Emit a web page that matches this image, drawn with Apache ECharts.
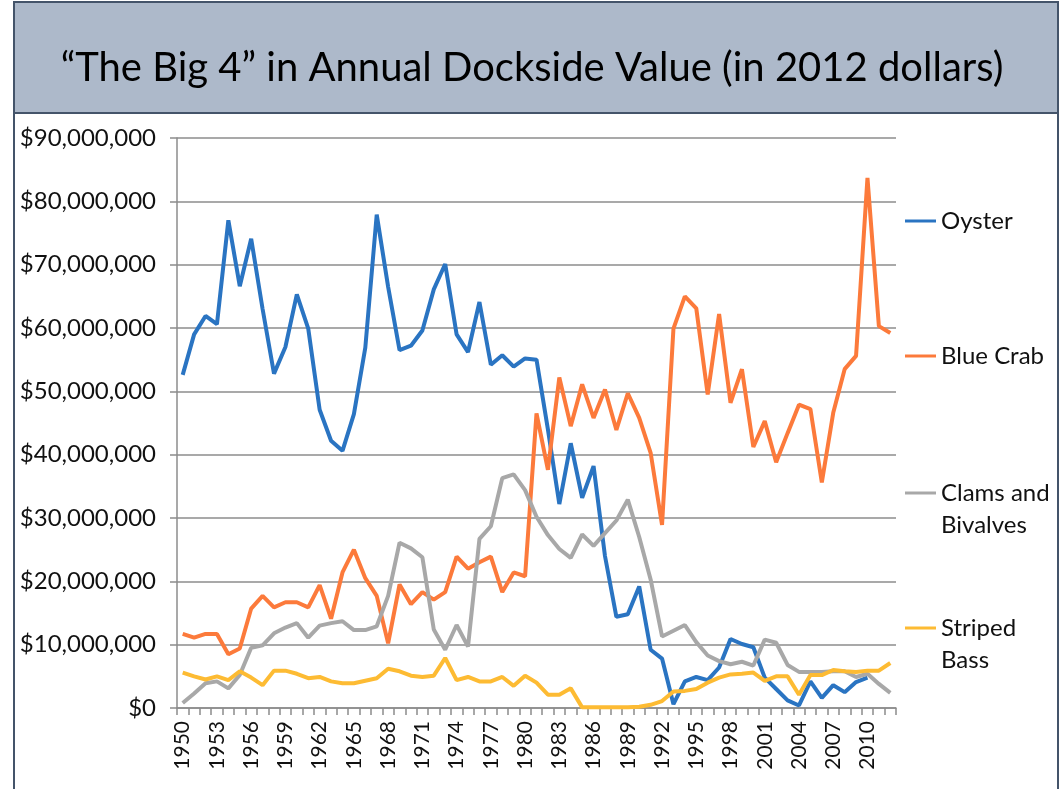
<!DOCTYPE html>
<html><head><meta charset="utf-8">
<script src="https://cdn.jsdelivr.net/npm/echarts@6/dist/echarts.min.js"></script>
<style>html,body{margin:0;padding:0;background:#fff}#c{width:1064px;height:789px}</style>
</head><body><div id="c"></div>
<script>
const chartTitle = '\u201CThe Big 4\u201D in Annual Dockside Value (in 2012 dollars)';
const years = ['1950','1951','1952','1953','1954','1955','1956','1957','1958','1959',
  '1960','1961','1962','1963','1964','1965','1966','1967','1968','1969',
  '1970','1971','1972','1973','1974','1975','1976','1977','1978','1979',
  '1980','1981','1982','1983','1984','1985','1986','1987','1988','1989',
  '1990','1991','1992','1993','1994','1995','1996','1997','1998','1999',
  '2000','2001','2002','2003','2004','2005','2006','2007','2008','2009',
  '2010','2011','2012'];
// values in millions of 2012 dollars
const oyster = [52.6,59.0,61.9,60.6,77.0,66.6,74.1,63.0,52.8,57.0,
  65.3,59.9,47.1,42.2,40.6,46.4,56.9,77.9,66.5,56.5,
  57.2,59.6,66.1,70.1,59.0,56.2,64.1,54.2,55.7,53.9,
  55.2,55.0,44.0,32.2,41.8,33.2,38.2,24.0,14.4,14.8,
  19.2,9.2,7.8,0.6,4.2,4.9,4.4,6.4,10.9,10.1,
  9.6,4.8,3.0,1.2,0.4,4.2,1.6,3.6,2.5,4.1,
  4.8,null,null];
const blueCrab = [11.7,11.1,11.7,11.7,8.5,9.4,15.7,17.7,15.9,16.7,
  16.7,15.9,19.4,14.1,21.4,25.0,20.5,17.7,10.2,19.5,
  16.4,18.3,17.1,18.3,23.9,22.0,23.0,23.9,18.3,21.4,
  20.8,46.5,37.6,52.2,44.5,51.1,45.8,50.3,43.9,49.7,
  45.8,40.3,28.9,59.9,65.0,63.1,49.5,62.2,48.2,53.5,
  41.2,45.3,38.8,43.4,47.9,47.2,35.6,46.6,53.5,55.6,
  83.7,60.3,59.2];
const clams = [0.8,2.3,3.9,4.2,3.1,5.2,9.5,9.9,11.8,12.7,
  13.4,11.1,13.0,13.4,13.7,12.3,12.3,12.9,17.7,26.1,
  25.2,23.8,12.4,9.2,13.1,9.7,26.7,28.7,36.3,36.9,
  34.4,30.2,27.3,25.1,23.7,27.4,25.6,27.6,29.6,32.9,
  27.0,20.3,11.3,12.2,13.1,10.4,8.3,7.4,6.9,7.3,
  6.7,10.8,10.3,6.8,5.7,5.7,5.7,5.8,5.8,4.9,
  5.4,3.8,2.4];
const stripedBass = [5.6,5.0,4.5,5.0,4.4,5.8,4.8,3.6,5.9,5.9,
  5.4,4.7,4.9,4.2,3.9,3.9,4.3,4.7,6.2,5.8,
  5.1,4.9,5.1,7.9,4.4,4.9,4.2,4.2,4.9,3.5,
  5.1,4.0,2.1,2.1,3.1,0.1,0.1,0.1,0.1,0.1,
  0.2,0.5,1.1,2.6,2.7,3.0,4.0,4.8,5.3,5.4,
  5.6,4.3,5.0,5.0,2.1,5.2,5.2,6.0,5.8,5.7,
  5.9,5.9,7.1];
const seriesNames = ['Oyster','Blue Crab','Clams and Bivalves','Striped Bass'];
const legendLines = [['Oyster'],['Blue Crab'],['Clams and','Bivalves'],['Striped','Bass']];
const colors = ['#2a74c2','#fc7a3b','#a8a8a8','#fdbb33'];
const seriesData = [oyster, blueCrab, clams, stripedBass];

const FONT = 'Lato';
const chart = echarts.init(document.getElementById('c'));
const legendCenters = [221, 356, 493, 628];
const LH = 32;
const legends = seriesNames.map((n, i) => {
  const lines = legendLines[i];
  // pad with a blank leading line so the first text line sits on the legend line icon
  const txt = lines.length > 1 ? ' \n' + lines.join('\n') : lines[0];
  const nLines = lines.length > 1 ? 3 : 1;
  return {
    data: [n], orient: 'vertical', left: 905, padding: 0,
    top: legendCenters[i] - (LH * nLines) / 2,
    icon: 'rect', itemWidth: 31, itemHeight: 3, itemGap: 0,
    formatter: () => txt,
    textStyle: { fontFamily: FONT, fontSize: 24, color: '#111', lineHeight: LH }
  };
});
chart.setOption({
  animation: false,
  backgroundColor: '#ffffff',
  color: colors,
  graphic: [
    { type: 'rect', shape: { x: 14, y: 2, width: 1044, height: 800 }, z: -10,
      style: { fill: '#ffffff', stroke: '#44546a', lineWidth: 2 } },
    { type: 'rect', shape: { x: 14, y: 2, width: 1044, height: 111 }, z: -9,
      style: { fill: '#adb9ca', stroke: '#44546a', lineWidth: 2 } }
  ],
  title: {
    text: chartTitle, left: 'center', top: 43,
    textStyle: { fontFamily: FONT, fontSize: 40, fontWeight: 'normal', color: '#000' }
  },
  legend: legends,
  grid: { left: 177, right: 168, top: 138, bottom: 81 },
  xAxis: {
    type: 'category', data: years, boundaryGap: true,
    axisLine: { lineStyle: { color: '#8c8c8c', width: 1.5 } },
    axisTick: { show: true, interval: 0, length: 7, lineStyle: { color: '#8c8c8c', width: 1.5 } },
    axisLabel: { interval: 2, rotate: 90, fontFamily: FONT, fontSize: 21, color: '#111', margin: 13 }
  },
  yAxis: {
    type: 'value', min: 0, max: 90, interval: 10,
    axisLine: { show: true, lineStyle: { color: '#8c8c8c', width: 1.5 } },
    axisTick: { show: true, length: 7, lineStyle: { color: '#8c8c8c', width: 1.5 } },
    splitLine: { lineStyle: { color: '#8c8c8c', width: 1.5 } },
    axisLabel: { fontFamily: FONT, fontSize: 24, color: '#111', margin: 21,
      formatter: v => '$' + (v * 1000000).toLocaleString('en-US') }
  },
  series: seriesNames.map((n, i) => ({
    name: n, type: 'line', data: seriesData[i], showSymbol: false, symbol: 'none',
    connectNulls: false, lineStyle: { width: 4, color: colors[i] },
    itemStyle: { color: colors[i] }
  }))
});
</script></body></html>
